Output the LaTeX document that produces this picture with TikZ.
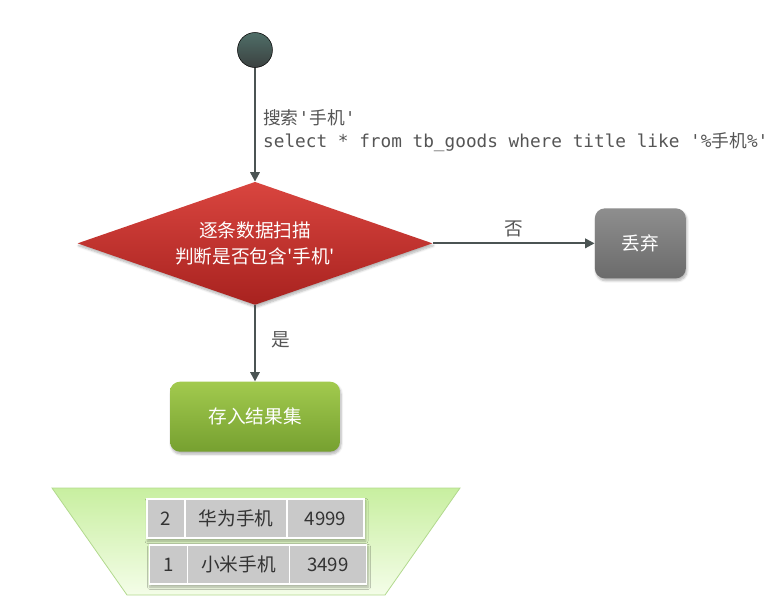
\documentclass[tikz,border=0pt]{standalone}
\usepackage{fontspec}
\usepackage{xcolor}
\newfontfamily\cjk{Noto Sans CJK SC}
\newfontfamily\codefont{DejaVu Sans Mono}
\usetikzlibrary{positioning, arrows.meta, shapes.geometric, shadows.blur, backgrounds}
\definecolor{linegray}{HTML}{4B5453}
\definecolor{labelgray}{HTML}{555555}
\definecolor{dottop}{HTML}{4F6E68}
\definecolor{dotbot}{HTML}{3B4140}
\definecolor{redtop}{HTML}{D9453F}
\definecolor{redbot}{HTML}{A8221F}
\definecolor{graytop}{HTML}{8E8E8E}
\definecolor{graybot}{HTML}{6B6B6B}
\definecolor{greentop}{HTML}{A2CA4E}
\definecolor{greenbot}{HTML}{76A030}
\definecolor{bowltop}{HTML}{C8EFA0}
\definecolor{bowlbot}{HTML}{F4FDE8}
\definecolor{bowlline}{HTML}{B2D98E}
\definecolor{cellgray}{HTML}{C9C9C9}
\definecolor{celltext}{HTML}{333333}

\begin{document}
\begin{tikzpicture}[x=0.75pt, y=-0.75pt, on grid, font=\cjk\fontsize{14}{19}\selectfont,
    flow/.style={draw=linegray, line width=1.6pt, -{Triangle[length=7pt, width=7pt]}},
    shade/.style={blur shadow={shadow xshift=0.8pt, shadow yshift=-1.8pt, shadow blur steps=6, shadow opacity=30}},
    box/.style={rectangle, rounded corners=7.5pt, text=white, minimum height=52.5pt, shade},
    cell/.style={rectangle, fill=cellgray, draw=white, line width=1pt, minimum height=29.25pt, text=celltext},
    lbl/.style={text=labelgray}]
    \useasboundingbox (0,0) rectangle (778,612);

    \node[circle, draw=black, line width=0.4pt, top color=dottop, bottom color=dotbot, minimum size=26.25pt, inner sep=0pt] (start) at (255,50) {};
    \node[diamond, below=145pt of start, shape aspect=2.886, minimum width=266.25pt, minimum height=92.25pt, inner sep=0pt,
          top color=redtop, bottom color=redbot, text=white, align=center, shade] (scan) {逐条数据扫描\\判断是否包含'手机'};
    \node[box, right=289pt of scan, minimum width=68.25pt, top color=graytop, bottom color=graybot] (drop) {丢弃};
    \node[box, below=130pt of scan, minimum width=127.5pt, top color=greentop, bottom color=greenbot] (store) {存入结果集};

    \draw[flow] (start) -- node[pos=0.55, right=2pt, anchor=west, lbl, align=left, font=\codefont\fontsize{13.3}{17.25}\selectfont]
        {{\cjk 搜索}'{\cjk 手机}'\\select * from tb\_goods where title like '\%{\cjk 手机}\%'} (scan);
    \draw[flow] (scan) -- node[above=1pt, anchor=south, lbl] {否} (drop);
    \draw[flow] (scan) -- node[pos=0.45, right=8pt, anchor=west, lbl] {是} (store);

    % result set
    \node[cell, minimum width=28.5pt] (r2id) at (166,518.5) {2};
    \node[cell, minimum width=76.5pt, right=52.5pt of r2id] (r2name) {华为手机};
    \node[cell, minimum width=57.75pt, right=67.1pt of r2name] (r2price) {4999};

    \node[cell, minimum width=28.5pt] (r1id) at (168.5,564.5) {1};
    \node[cell, minimum width=76.5pt, right=52.5pt of r1id] (r1name) {小米手机};
    \node[cell, minimum width=57.75pt, right=67.1pt of r1name] (r1price) {3499};

    \begin{scope}[on background layer]
        \path[draw=bowlline, line width=0.6pt, top color=bowltop, bottom color=bowlbot]
            (52,488) coordinate (bowl nw) -- (460,488) coordinate (bowl ne)
            -- (385,595) coordinate (bowl se) -- (127,595) coordinate (bowl sw) -- cycle;
        \path[fill=white, shade] (r2id.north west) rectangle (r2price.south east);
        \path[fill=white, shade] (r1id.north west) rectangle (r1price.south east);
    \end{scope}
\end{tikzpicture}
\end{document}
